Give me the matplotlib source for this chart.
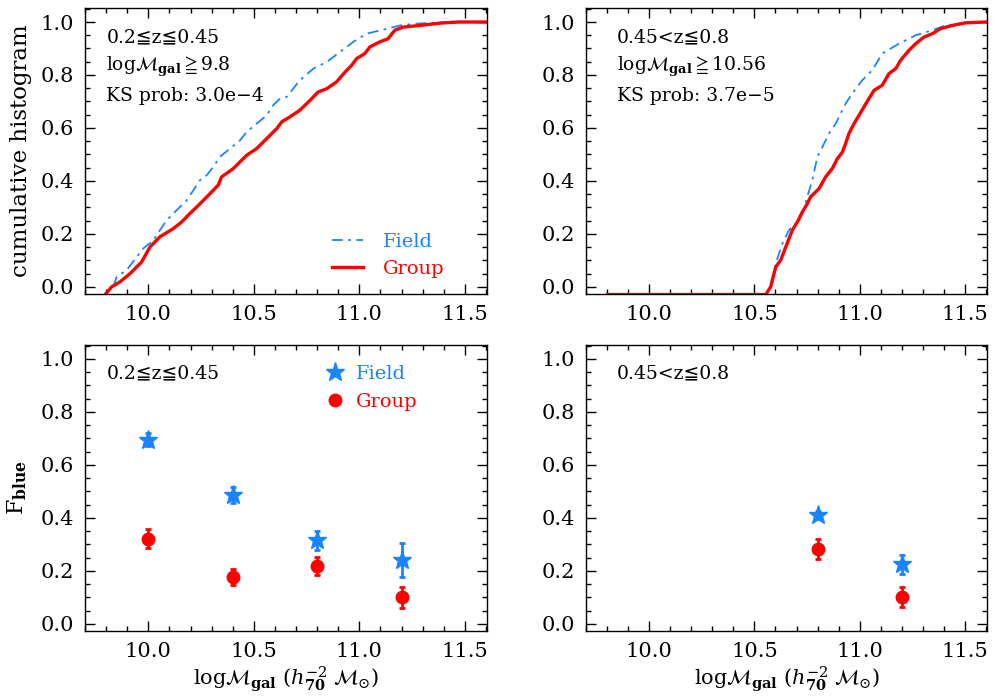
import matplotlib
matplotlib.use('Agg')
import matplotlib.pyplot as plt
from matplotlib.lines import Line2D
from matplotlib.ticker import MultipleLocator, FormatStrFormatter

plt.rcParams['font.family'] = ['DejaVu Serif', 'DejaVu Sans']
plt.rcParams['mathtext.fontset'] = 'dejavuserif'
plt.rcParams['mathtext.fallback'] = 'stix'

BLUE = '#1a84ff'
RED = '#ff0000'

# cumulative histograms, 0.2<=z<=0.45
lo_field_x = [9.834, 9.850, 9.897, 9.945, 9.976, 10.024, 10.055, 10.087, 10.150, 10.182,
              10.245, 10.276, 10.308, 10.339, 10.387, 10.434, 10.466, 10.513, 10.561, 10.592,
              10.624, 10.655, 10.718, 10.782, 10.845, 10.908, 10.971, 11.034, 11.113, 11.192,
              11.271, 11.350, 11.476, 11.60]
lo_field_y = [0.0, 0.038, 0.063, 0.113, 0.145, 0.176, 0.214, 0.252, 0.302, 0.327,
              0.403, 0.421, 0.453, 0.491, 0.522, 0.553, 0.585, 0.616, 0.648, 0.686,
              0.711, 0.717, 0.780, 0.824, 0.849, 0.887, 0.925, 0.956, 0.971, 0.987,
              0.994, 0.997, 1.0, 1.0]
lo_group_x = [9.80, 9.826, 9.866, 9.913, 9.968, 10.008, 10.055, 10.118, 10.158, 10.197,
              10.245, 10.292, 10.331, 10.347, 10.403, 10.466, 10.513, 10.561, 10.608, 10.632,
              10.671, 10.718, 10.766, 10.805, 10.845, 10.892, 10.932, 10.963, 10.987, 11.026,
              11.050, 11.097, 11.136, 11.168, 11.208, 11.287, 11.382, 11.47, 11.60]
lo_group_y = [-0.025, 0.0, 0.019, 0.05, 0.094, 0.151, 0.189, 0.22, 0.245, 0.277,
              0.314, 0.352, 0.384, 0.415, 0.447, 0.497, 0.522, 0.56, 0.597, 0.623,
              0.642, 0.667, 0.704, 0.736, 0.748, 0.774, 0.811, 0.836, 0.862, 0.881,
              0.906, 0.925, 0.937, 0.969, 0.981, 0.987, 0.996, 1.0, 1.0]

# cumulative histograms, 0.45<z<=0.8
hi_field_x = [9.802, 10.554, 10.577, 10.601, 10.617, 10.633, 10.664, 10.696, 10.728, 10.751,
              10.775, 10.799, 10.823, 10.854, 10.886, 10.933, 10.965, 11.012, 11.060, 11.107,
              11.186, 11.266, 11.345, 11.408, 11.503, 11.598]
hi_field_y = [-0.029, -0.029, 0.0, 0.088, 0.126, 0.164, 0.214, 0.239, 0.277, 0.340,
              0.403, 0.491, 0.528, 0.579, 0.616, 0.692, 0.730, 0.780, 0.818, 0.881,
              0.918, 0.950, 0.969, 0.987, 0.997, 1.0]
hi_group_x = [9.802, 10.554, 10.577, 10.593, 10.601, 10.625, 10.649, 10.680, 10.704, 10.728,
              10.751, 10.767, 10.807, 10.838, 10.870, 10.894, 10.918, 10.933, 10.949, 10.973,
              10.997, 11.020, 11.044, 11.068, 11.107, 11.139, 11.171, 11.194, 11.234, 11.266,
              11.305, 11.345, 11.384, 11.440, 11.503, 11.598]
hi_group_y = [-0.029, -0.029, 0.0, 0.050, 0.075, 0.101, 0.151, 0.214, 0.245, 0.283,
              0.314, 0.340, 0.371, 0.415, 0.447, 0.484, 0.509, 0.541, 0.579, 0.616,
              0.648, 0.679, 0.711, 0.742, 0.761, 0.805, 0.824, 0.855, 0.893, 0.918,
              0.943, 0.956, 0.975, 0.987, 0.997, 1.0]

# blue fractions
lo_mass = [10.0, 10.4, 10.8, 11.2]
lo_fblue_field = [0.695, 0.485, 0.315, 0.24]
lo_fblue_field_err = [0.025, 0.03, 0.035, 0.065]
lo_fblue_group = [0.322, 0.178, 0.218, 0.10]
lo_fblue_group_err = [0.035, 0.03, 0.035, 0.04]

hi_mass = [10.8, 11.2]
hi_fblue_field = [0.41, 0.225]
hi_fblue_field_err = [0.015, 0.035]
hi_fblue_group = [0.282, 0.10]
hi_fblue_group_err = [0.037, 0.038]

xlabel = r'log$\mathcal{M}_{\mathbf{gal}}$ ($h_{\mathbf{70}}^{-2}\;\mathcal{M}_{\odot}$)'
TXT = 13.5


def style_axis(ax):
    ax.set_xlim(9.7, 11.605)
    ax.set_ylim(-0.027, 1.053)
    ax.xaxis.set_major_locator(MultipleLocator(0.5))
    ax.xaxis.set_minor_locator(MultipleLocator(0.1))
    ax.yaxis.set_major_locator(MultipleLocator(0.2))
    ax.yaxis.set_minor_locator(MultipleLocator(0.05))
    ax.xaxis.set_major_formatter(FormatStrFormatter('%.1f'))
    ax.yaxis.set_major_formatter(FormatStrFormatter('%.1f'))
    ax.tick_params(which='both', direction='in', top=True, right=True, labelsize=15, width=1.0)
    ax.tick_params(which='major', length=7, pad=8)
    ax.tick_params(which='minor', length=3.5)
    for s in ax.spines.values():
        s.set_linewidth(1.0)


fig = plt.figure(figsize=(9.97, 7.0), dpi=100)
ax_tl = fig.add_axes([0.0853, 0.580, 0.4032, 0.4086])
ax_tr = fig.add_axes([0.5878, 0.580, 0.4022, 0.4086])
ax_bl = fig.add_axes([0.0853, 0.0986, 0.4032, 0.4086])
ax_br = fig.add_axes([0.5878, 0.0986, 0.4022, 0.4086])

# top left
ax = ax_tl
ax.plot(lo_field_x, lo_field_y, color=BLUE, lw=1.3, ls=(0, (6, 3, 1.5, 3)), label='Field')
ax.plot(lo_group_x, lo_group_y, color=RED, lw=2.4, label='Group')
style_axis(ax)
ax.set_ylabel('cumulative histogram', fontsize=16.5, labelpad=6)
ax.text(0.053, 0.897, '0.2≦z≦0.45', transform=ax.transAxes, fontsize=TXT, va='center')
ax.text(0.053, 0.794, r'log$\mathcal{M}_{\mathbf{gal}}\geqq$9.8', transform=ax.transAxes,
        fontsize=TXT, va='center')
ax.text(0.053, 0.692, 'KS prob: 3.0e−4', transform=ax.transAxes, fontsize=TXT, va='center')
ax.legend(loc='lower left', bbox_to_anchor=(0.615, 0.055), frameon=False, fontsize=14,
          labelcolor='linecolor', handlelength=1.6, handletextpad=1.0, labelspacing=0.5,
          borderpad=0, borderaxespad=0)

# top right
ax = ax_tr
ax.plot(hi_field_x, hi_field_y, color=BLUE, lw=1.3, ls=(0, (6, 3, 1.5, 3)))
ax.plot(hi_group_x, hi_group_y, color=RED, lw=2.4)
style_axis(ax)
ax.text(0.077, 0.897, '0.45<z≦0.8', transform=ax.transAxes, fontsize=TXT, va='center')
ax.text(0.077, 0.794, r'log$\mathcal{M}_{\mathbf{gal}}\geqq$10.56', transform=ax.transAxes,
        fontsize=TXT, va='center')
ax.text(0.077, 0.692, 'KS prob: 3.7e−5', transform=ax.transAxes, fontsize=TXT, va='center')

# bottom left
ax = ax_bl
ax.errorbar(lo_mass, lo_fblue_field, yerr=lo_fblue_field_err, fmt='*', color=BLUE, ms=14,
            elinewidth=2, capsize=2, capthick=2)
ax.errorbar(lo_mass, lo_fblue_group, yerr=lo_fblue_group_err, fmt='o', color=RED, ms=9,
            elinewidth=2, capsize=2, capthick=2)
style_axis(ax)
ax.set_xlabel(xlabel, fontsize=15, labelpad=2)
ax.set_ylabel(r'F$_{\mathbf{blue}}$', fontsize=16, labelpad=8)
ax.text(0.053, 0.90, '0.2≦z≦0.45', transform=ax.transAxes, fontsize=TXT, va='center')
handles = [Line2D([], [], ls='none', marker='*', ms=14, color=BLUE, label='Field'),
           Line2D([], [], ls='none', marker='o', ms=9, color=RED, label='Group')]
ax.legend(handles=handles, loc='upper left', bbox_to_anchor=(0.597, 0.93), frameon=False,
          fontsize=14, labelcolor='linecolor', handlelength=1.0, handletextpad=0.6,
          labelspacing=0.5, borderpad=0, borderaxespad=0)

# bottom right
ax = ax_br
ax.errorbar(hi_mass, hi_fblue_field, yerr=hi_fblue_field_err, fmt='*', color=BLUE, ms=14,
            elinewidth=2, capsize=2, capthick=2)
ax.errorbar(hi_mass, hi_fblue_group, yerr=hi_fblue_group_err, fmt='o', color=RED, ms=9,
            elinewidth=2, capsize=2, capthick=2)
style_axis(ax)
ax.set_xlabel(xlabel, fontsize=15, labelpad=2)
ax.text(0.077, 0.90, '0.45<z≦0.8', transform=ax.transAxes, fontsize=TXT, va='center')

fig.savefig('out.png', dpi=100)
